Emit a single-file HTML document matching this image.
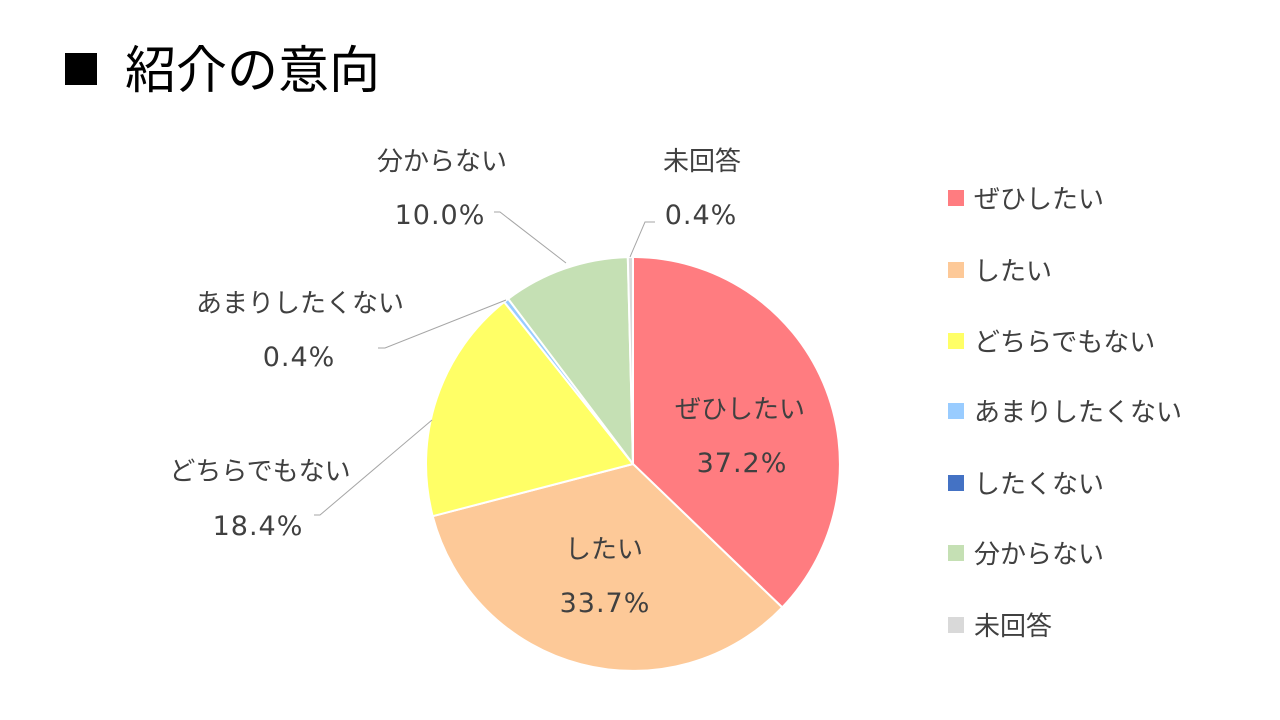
<!DOCTYPE html>
<html><head><meta charset="utf-8"><style>
body{margin:0;background:#fff;}
svg{display:block}
text{font-family:"Liberation Sans","Noto Sans CJK JP",sans-serif;fill:#404040;}
.n{font-family:"DejaVu Sans",sans-serif;font-size:27px;letter-spacing:1px;}
</style></head><body>
<svg width="1280" height="720" viewBox="0 0 1280 720">
<rect x="65" y="53" width="32" height="32" fill="#000"/>
<text x="125" y="88" font-size="51" style="fill:#000">紹介の意向</text>
<g stroke="#fff" stroke-width="2" stroke-linejoin="round">
<path d="M633,464 L633,257 A207,207 0 0,1 782.2,607.4 Z" fill="#FF7C80"/>
<path d="M633,464 L782.2,607.4 A207,207 0 0,1 432.7,516.2 Z" fill="#FDC998"/>
<path d="M633,464 L432.7,516.2 A207,207 0 0,1 504.2,302 Z" fill="#FFFF66"/>
<path d="M633,464 L504.2,302 A207,207 0 0,1 508.2,298.8 Z" fill="#99CCFF"/>
<path d="M633,464 L508.2,298.8 A207,207 0 0,1 627.8,257.1 Z" fill="#C5E0B4"/>
<path d="M633,464 L627.8,257.1 A207,207 0 0,1 633,257 Z" fill="#D9D9D9"/>
</g>
<g stroke="#A6A6A6" stroke-width="1" fill="none">
<polyline points="630,257 645,222 655,222"/>
<polyline points="566,263 500,212 494,212"/>
<polyline points="506,300 385,348 378,348"/>
<polyline points="432,420 320,515 314,515"/>
</g>
<g font-size="26" text-anchor="middle">
<text x="740" y="418">ぜひしたい</text>
<text x="742" y="472" class="n">37.2%</text>
<text x="604" y="558">したい</text>
<text x="605" y="612" class="n">33.7%</text>
<text x="260" y="480">どちらでもない</text>
<text x="258" y="535" class="n">18.4%</text>
<text x="300" y="312">あまりしたくない</text>
<text x="299" y="366" class="n">0.4%</text>
<text x="442" y="170">分からない</text>
<text x="440" y="224" class="n">10.0%</text>
<text x="702" y="170">未回答</text>
<text x="701" y="224" class="n">0.4%</text>
</g>
<g font-size="26">
<rect x="948" y="190" width="16" height="16" fill="#FF7C80"/><text x="974" y="208">ぜひしたい</text>
<rect x="948" y="262" width="16" height="16" fill="#FDC998"/><text x="974" y="280">したい</text>
<rect x="948" y="333" width="16" height="16" fill="#FFFF66"/><text x="974" y="351">どちらでもない</text>
<rect x="948" y="403" width="16" height="16" fill="#99CCFF"/><text x="974" y="421">あまりしたくない</text>
<rect x="948" y="475" width="16" height="16" fill="#4472C4"/><text x="974" y="493">したくない</text>
<rect x="948" y="545" width="16" height="16" fill="#C5E0B4"/><text x="974" y="563">分からない</text>
<rect x="948" y="617" width="16" height="16" fill="#D9D9D9"/><text x="974" y="635">未回答</text>
</g>
</svg>
</body></html>
